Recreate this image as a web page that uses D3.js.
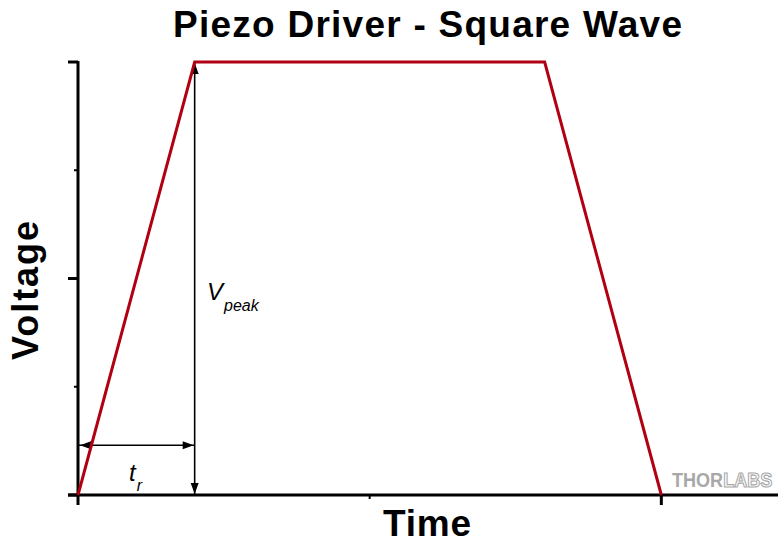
<!DOCTYPE html>
<html><head><meta charset="utf-8">
<script src="https://cdn.jsdelivr.net/npm/d3@7"></script>
<style>body{margin:0;background:#fff}svg{display:block}</style>
</head><body>
<script>
// Data
const waveX = [0, 2, 8, 10];
const waveY = [0, 4, 4, 0];
const xTicksMajor = [0, 10];
const xTicksMinor = [5];
const yTicksMajor = [0, 2, 4];
const yTicksMinor = [1, 3];
const riseTimeLevel = 0.46;
const titleText = "Piezo Driver - Square Wave";
const xLabel = "Time";
const yLabel = "Voltage";

const W = 780, H = 548;
const svg = d3.select("body").append("svg").attr("width", W).attr("height", H);
const x = d3.scaleLinear().domain([0, 12]).range([78, 778]);
const y = d3.scaleLinear().domain([0, 4]).range([495, 62]);

// Axes
svg.append("line").attr("x1", x(0) - 10).attr("x2", x(12)).attr("y1", y(0)).attr("y2", y(0))
  .attr("stroke", "#000").attr("stroke-width", 3);
svg.append("line").attr("x1", x(0)).attr("x2", x(0)).attr("y1", y(4) - 1).attr("y2", y(0))
  .attr("stroke", "#000").attr("stroke-width", 3);
// y ticks
svg.selectAll(".ytM").data(yTicksMajor).enter().append("line")
  .attr("x1", x(0) - 10).attr("x2", x(0)).attr("y1", d => y(d)).attr("y2", d => y(d))
  .attr("stroke", "#000").attr("stroke-width", 3);
svg.selectAll(".ytm").data(yTicksMinor).enter().append("line")
  .attr("x1", x(0) - 4).attr("x2", x(0)).attr("y1", d => y(d)).attr("y2", d => y(d))
  .attr("stroke", "#000").attr("stroke-width", 2);
// x ticks
svg.selectAll(".xtM").data(xTicksMajor).enter().append("line")
  .attr("x1", d => x(d)).attr("x2", d => x(d)).attr("y1", y(0)).attr("y2", y(0) + 10)
  .attr("stroke", "#000").attr("stroke-width", 3);
svg.selectAll(".xtm").data(xTicksMinor).enter().append("line")
  .attr("x1", d => x(d)).attr("x2", d => x(d)).attr("y1", y(0)).attr("y2", y(0) + 4)
  .attr("stroke", "#000").attr("stroke-width", 2);

// Arrows (black)
const ax = waveX[1];
svg.append("line").attr("x1", x(ax)).attr("x2", x(ax)).attr("y1", y(4)).attr("y2", y(0))
  .attr("stroke", "#000").attr("stroke-width", 1.6);
svg.append("line").attr("x1", x(0)).attr("x2", x(ax)).attr("y1", y(riseTimeLevel)).attr("y2", y(riseTimeLevel))
  .attr("stroke", "#000").attr("stroke-width", 1.6);
function head(px, py, dx, dy) {
  const L = 11, w = 4, nx = -dy, ny = dx;
  return `M${px},${py}L${px - dx*L + nx*w},${py - dy*L + ny*w}L${px - dx*L - nx*w},${py - dy*L - ny*w}Z`;
}
[[x(ax), y(4) + 1, 0, -1], [x(ax), y(0) - 1, 0, 1], [x(0) + 2, y(riseTimeLevel), -1, 0], [x(ax) - 1, y(riseTimeLevel), 1, 0]]
  .forEach(a => svg.append("path").attr("d", head(...a)).attr("fill", "#000"));

// Wave
const pts = waveX.map((d, i) => [x(d), y(waveY[i])]);
svg.append("path").attr("d", d3.line()(pts)).attr("fill", "none")
  .attr("stroke", "#b00012").attr("stroke-width", 3).attr("stroke-linejoin", "miter");

// Text
svg.append("text").attr("x", 173).attr("y", 37).attr("font-family", "Liberation Sans, Arial, sans-serif")
  .attr("font-weight", "bold").attr("font-size", 37).attr("textLength", 509).attr("lengthAdjust", "spacing")
  .text(titleText);
svg.append("text").attr("x", 383).attr("y", 536).attr("font-family", "Liberation Sans, Arial, sans-serif")
  .attr("font-weight", "bold").attr("font-size", 37).attr("textLength", 88).attr("lengthAdjust", "spacing")
  .text(xLabel);
svg.append("text").attr("transform", "translate(38,360) rotate(-90)").attr("font-family", "Liberation Sans, Arial, sans-serif")
  .attr("font-weight", "bold").attr("font-size", 36).attr("textLength", 139).attr("lengthAdjust", "spacing")
  .text(yLabel);

const vp = svg.append("text").attr("x", 207).attr("y", 300).attr("font-family", "Liberation Sans, Arial, sans-serif")
  .attr("font-style", "italic").attr("font-size", 24);
vp.append("tspan").text("V");
vp.append("tspan").attr("font-size", 16).attr("dy", 11).attr("dx", 1).text("peak");

const tr = svg.append("text").attr("x", 129).attr("y", 481).attr("font-family", "Liberation Sans, Arial, sans-serif")
  .attr("font-style", "italic").attr("font-size", 24);
tr.append("tspan").text("t");
tr.append("tspan").attr("font-size", 16).attr("dy", 10).attr("dx", 1).text("r");

// Logo
const lg = svg.append("text").attr("transform", "translate(672,487) scale(0.86,1)")
  .attr("font-family", "Liberation Sans, Arial, sans-serif")
  .attr("font-weight", "bold").attr("font-size", 21);
lg.append("tspan").attr("fill", "#a8a8a8").text("THOR");
lg.append("tspan").attr("fill", "#fff").attr("stroke", "#a8a8a8").attr("stroke-width", 1.2).text("LABS");
</script>
</body></html>
